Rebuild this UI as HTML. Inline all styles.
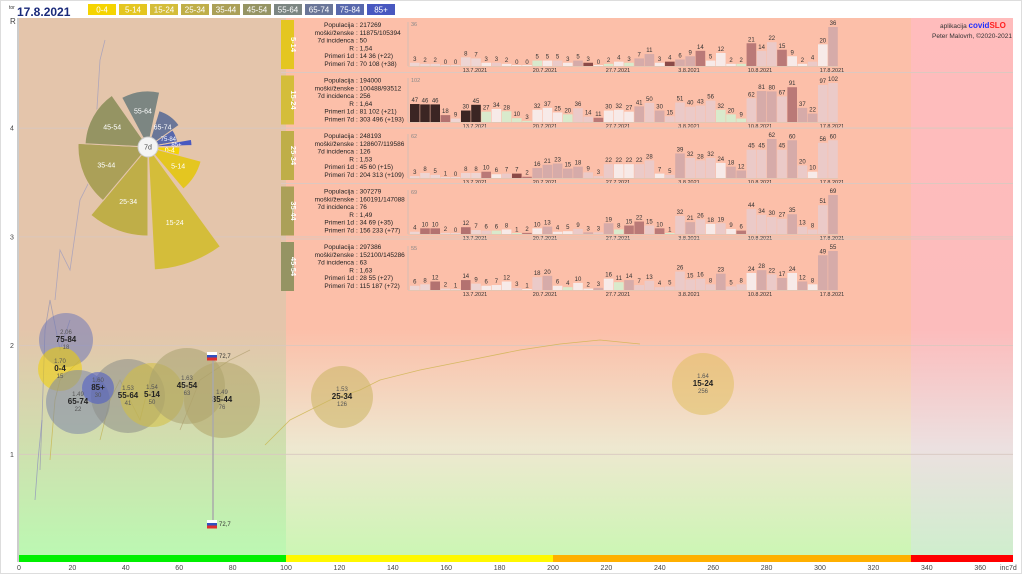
<!DOCTYPE html>
<html><head><meta charset="utf-8">
<style>
html,body{margin:0;padding:0;background:#fff;}
svg{display:block;font-family:"Liberation Sans",sans-serif;}
</style></head><body>
<svg id="s" width="1024" height="576" viewBox="0 0 1024 576" xmlns="http://www.w3.org/2000/svg">
<defs>
<linearGradient id="g1" x1="0" y1="0" x2="0" y2="1">
<stop offset="0" stop-color="#e4c5ab"/><stop offset="0.58" stop-color="#e4c5ab"/><stop offset="1" stop-color="#bcf8b2"/></linearGradient>
<linearGradient id="g2" x1="0" y1="0" x2="0" y2="1">
<stop offset="0" stop-color="#fcbfa9"/><stop offset="0.58" stop-color="#fcbfa9"/><stop offset="0.8" stop-color="#eee8d0"/><stop offset="1" stop-color="#ccf6b4"/></linearGradient>
<linearGradient id="g3" x1="0" y1="0" x2="0" y2="1">
<stop offset="0" stop-color="#ffbcbc"/><stop offset="0.58" stop-color="#fcbcbc"/><stop offset="0.8" stop-color="#ece0e0"/><stop offset="1" stop-color="#cfeecd"/></linearGradient>
</defs>
<rect x="0" y="0" width="1024" height="576" fill="#fff"/>
<rect x="0.5" y="0.5" width="1021" height="573" fill="none" stroke="#ddd"/>
<rect x="19" y="18" width="267" height="537" fill="url(#g1)"/>
<rect x="286" y="18" width="625" height="537" fill="url(#g2)"/>
<rect x="911" y="18" width="102" height="537" fill="url(#g3)"/>
<line x1="18" y1="18" x2="18" y2="562" stroke="#999"/>
<g id="grid" stroke="#d8c8c0" stroke-width="0.8"></g>
<rect x="19" y="555" width="267" height="7" fill="#00f000"/>
<rect x="286" y="555" width="267" height="7" fill="#fff800"/>
<rect x="553" y="555" width="358" height="7" fill="#ffb000"/>
<rect x="911" y="555" width="102" height="7" fill="#ff0000"/>
<g id="ax" font-size="7" fill="#444"></g>
<g id="trails" fill="none" stroke-width="0.8"></g>
<g id="bub"></g>
<g id="pie"></g>
<g id="rows"></g>
<g id="hdr"></g>
<text x="940" y="28" font-size="6.5" fill="#333">aplikacija <tspan fill="#2030ff" font-weight="bold" font-size="8">covid</tspan><tspan fill="#ff2020" font-weight="bold" font-size="8">SLO</tspan></text>
<text x="1012" y="38" font-size="6.5" fill="#333" text-anchor="end">Peter Malovrh, ©2020-2021</text>
</svg>
<script>
const NS="http://www.w3.org/2000/svg";
function el(p,t,a,txt){const e=document.createElementNS(NS,t);for(const k in a)e.setAttribute(k,a[k]);if(txt!==undefined)e.textContent=txt;document.getElementById(p).appendChild(e);return e;}
const X=v=>19+v*2.67, Y=r=>563-r*108.7;
[1,2,3,4].forEach(r=>{el('grid','line',{x1:19,x2:1013,y1:Y(r),y2:Y(r)});el('ax','text',{x:10,y:Y(r)+2.5},r)});
el('ax','text',{x:10,y:24,'font-size':8},'R');
for(let v=0;v<=360;v+=20)el('ax','text',{x:X(v),y:570,'text-anchor':'middle'},v);
el('ax','text',{x:1000,y:570},'inc7d');
el('hdr','text',{x:9,y:9,'font-size':5,fill:'#333'},'tor');
el('hdr','text',{x:17,y:16,'font-size':12,'font-weight':'bold',fill:'#1a2a7a'},'17.8.2021');
const ages=['0-4','5-14','15-24','25-34','35-44','45-54','55-64','65-74','75-84','85+'];
const cols=['#f5d400','#e4c620','#d4bd3a','#bfae48','#aba058','#959463','#7c8682','#6a7698','#5868ac','#4858c0'];
ages.forEach((a,i)=>{const x=88+i*31;el('hdr','rect',{x:x,y:4,width:28,height:11,fill:cols[i]});el('hdr','text',{x:x+14,y:12.5,'font-size':8,fill:'#fff','text-anchor':'middle'},a);});
const tr=[["#c8b040","265,445 290,420 330,400 360,390 380,380 420,370 470,360 520,350 560,344 600,340 640,344"],
["#c8b040","50,460 55,400 60,380 70,370 80,360"],["#9090b0","40,470 42,420 45,330 50,300 60,350 70,320"],
["#9898c0","55,300 60,250 70,270 80,200 90,180 95,140 100,60 105,40"],["#c0b050","100,440 110,400 120,380 140,420 150,380 160,400"],
["#b0a070","180,430 200,380 230,360 250,350"],["#8888c0","35,500 38,460 42,420"]];
tr.forEach(t=>el('trails','polyline',{points:t[1],stroke:t[0],opacity:0.7}));
const B=[[66,340,27,'#7078b8','2.06','75-84','18'],[60,369,22,'#f0d000','1.70','0-4','15'],[78,402,32,'#7c86a8','1.49','65-74','22'],
[128,396,37,'#8c8e88','1.53','55-64','41'],[152,395,32,'#d4c040','1.54','5-14','50'],[98,388,16,'#4858c8','1.60','85+','30'],
[187,386,38,'#a8a070','1.63','45-54','63'],[222,400,38,'#b0a468','1.49','35-44','76'],[342,397,31,'#cbb560','1.53','25-34','126'],[703,384,31,'#e0c060','1.64','15-24','256']];
B.forEach(b=>{el('bub','circle',{cx:b[0],cy:b[1],r:b[2],fill:b[3],opacity:0.55});});
B.forEach(b=>{el('bub','text',{x:b[0],y:b[1]-6,'font-size':6,'text-anchor':'middle',fill:'#555'},b[4]);
el('bub','text',{x:b[0],y:b[1]+2,'font-size':8,'font-weight':'bold','text-anchor':'middle',fill:'#222'},b[5]);
el('bub','text',{x:b[0],y:b[1]+9,'font-size':6,'text-anchor':'middle',fill:'#555'},b[6]);});
el('bub','line',{x1:213,y1:358,x2:213,y2:520,stroke:'#aaa','stroke-width':1.5});
[[355],[523]].forEach(f=>{el('bub','rect',{x:207,y:f[0]-3,width:10,height:3,fill:'#fff'});el('bub','rect',{x:207,y:f[0],width:10,height:2.5,fill:'#3050c0'});el('bub','rect',{x:207,y:f[0]+2.5,width:10,height:3,fill:'#e03030'});el('bub','text',{x:219,y:f[0]+3,'font-size':6,fill:'#333'},'72,7');});
const cx=148,cy=147;
const P=[[90,105,32,0],[105,140,55,1],[144,177,123,2],[180,220,89,3],[220,273,70,4],[273,325,63,5],[332,372,56,6],[17,55,38,7],[55,80,30,8],[80,88,44,9]];
function pt(a,r){const t=a*Math.PI/180;return [cx+r*Math.sin(t),cy-r*Math.cos(t)];}
P.forEach(p=>{const [a1,a2,r,i]=p;const s=pt(a1,r),e=pt(a2,r);
el('pie','path',{d:`M${cx},${cy}L${s[0]},${s[1]}A${r},${r} 0 0 1 ${e[0]},${e[1]}Z`,fill:cols[i],stroke:'#e4c5ab','stroke-width':1});
const m=pt((a1+a2)/2,Math.max(r*0.65,22));el('pie','text',{x:m[0],y:m[1]+2.5,'font-size':i>7?6:7,fill:'#fff','text-anchor':'middle'},ages[i]);});
el('pie','circle',{cx:cx,cy:cy,r:10,fill:'#f4f4f4',stroke:'#ccc'});
el('pie','text',{x:cx,y:cy+2.5,'font-size':7,'text-anchor':'middle',fill:'#444'},'7d');
const R=[
['5-14',1,['217269','11875/105394','50','1,54','14 36 (+22)','70 108 (+38)'],[3,2,2,0,0,8,7,3,3,2,0,0,5,5,5,3,5,3,0,2,4,3,7,11,3,4,6,9,14,5,12,2,2,21,14,22,15,9,2,4,20,36]],
['15-24',2,['194000','100488/93512','256','1,64','81 102 (+21)','303 496 (+193)'],[47,46,46,18,9,30,45,27,34,28,10,3,32,37,25,20,36,14,11,30,32,27,41,50,30,15,51,40,43,56,32,20,9,62,81,80,67,91,37,22,97,102]],
['25-34',3,['248193','128607/119586','126','1,53','45 60 (+15)','204 313 (+109)'],[3,8,5,1,0,8,8,10,6,7,7,2,16,21,23,15,18,9,3,22,22,22,22,28,7,5,39,32,28,32,24,18,12,45,45,62,45,60,20,10,56,60]],
['35-44',4,['307279','160191/147088','76','1,49','34 69 (+35)','156 233 (+77)'],[4,10,10,2,0,12,7,6,6,8,1,2,10,13,4,5,9,3,3,19,8,15,22,15,10,1,32,21,26,18,19,9,6,44,34,30,27,35,13,8,51,69]],
['45-54',5,['297386','152100/145286','63','1,63','28 55 (+27)','115 187 (+72)'],[6,8,12,2,1,14,9,6,7,12,3,1,18,20,6,4,10,2,3,16,11,14,7,13,4,5,26,15,16,8,23,5,8,24,28,22,17,24,12,8,49,55]]];
const labs=['Populacija','moški/ženske','7d incidenca','R','Primeri 1d','Primeri 7d'];
const dates=[[475,'13.7.2021'],[545,'20.7.2021'],[618,'27.7.2021'],[689,'3.8.2021'],[760,'10.8.2021'],[832,'17.8.2021']];
R.forEach((row,k)=>{const top=20+k*55.5, base=66+k*56;
if(k>0)el('rows','line',{x1:281,x2:1013,y1:top-3,y2:top-3,stroke:'#ddc8c0'});
el('rows','rect',{x:281,y:top,width:13,height:49,fill:cols[row[1]]});
el('rows','text',{x:0,y:0,'font-size':7.5,'font-weight':'bold',fill:'#fff','text-anchor':'middle',transform:`translate(291,${top+24.5}) rotate(90)`},row[0]);
labs.forEach((l,j)=>{const y=top+7+j*7.8;el('rows','text',{x:354,y:y,'font-size':6.5,fill:'#222','text-anchor':'end'},l);
el('rows','text',{x:356,y:y,'font-size':6.5,fill:'#222'},': '+row[2][j]);});
const d=row[3],mx=Math.max(...d);
el('rows','line',{x1:408,x2:408,y1:base-44,y2:base,stroke:'#bbb','stroke-width':0.6});
el('rows','line',{x1:408,x2:838,y1:base+0.5,y2:base+0.5,stroke:'#ccb','stroke-width':0.6});
el('rows','text',{x:411,y:base-40,'font-size':5.5,fill:'#888'},mx);
d.forEach((v,i)=>{const x=410+i*10.2,h=v/mx*39;let c;const p=i>=7?d[i-7]:v;const r=(v+1)/(p+1);
if(i<7)c=v>25?'#201010':(v>9?'#a86868':'#ecd8d8');else if(r<0.7)c='#d4f0d0';else if(r<1.1)c='#f6f0f0';else if(r<1.7)c='#e8cccc';else if(r<2.5)c='#d0a8a8';else if(r<4)c='#b07070';else if(r<7)c='#7a3a3a';else c='#201010';
el('rows','rect',{x:x,y:base-Math.max(h,1),width:9.6,height:Math.max(h,1),fill:c,opacity:0.88});
el('rows','text',{x:x+4.8,y:base-h-2,'font-size':6,fill:'#333','text-anchor':'middle'},v);});
dates.forEach(dd=>el('rows','text',{x:dd[0],y:base+6,'font-size':5.5,fill:'#333','text-anchor':'middle'},dd[1]));
});
</script>
</body></html>
